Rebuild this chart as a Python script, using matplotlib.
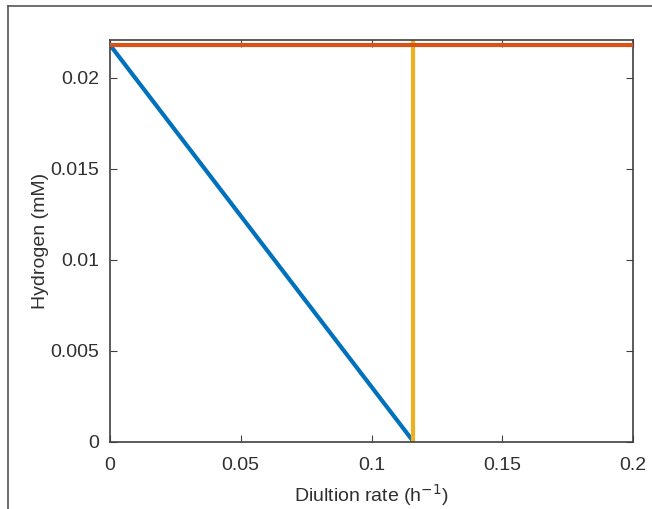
import matplotlib
matplotlib.use("Agg")
import matplotlib.pyplot as plt
from matplotlib.lines import Line2D

plt.rcParams['font.family'] = ['Liberation Sans', 'DejaVu Sans']

# washout line and hydrogen trajectory
dilution_blue = [0.0, 0.116]
hydrogen_blue = [0.0218, 0.0]
dilution_red = [0.0, 0.2]
hydrogen_red = [0.0218, 0.0218]
dilution_yellow = [0.116, 0.116]
hydrogen_yellow = [0.0, 0.0221]

xticks = [0, 0.05, 0.1, 0.15, 0.2]
xticklabels = ['0', '0.05', '0.1', '0.15', '0.2']
yticks = [0, 0.005, 0.01, 0.015, 0.02]
yticklabels = ['0', '0.005', '0.01', '0.015', '0.02']

axis_color = '#404040'
text_color = '#303030'

fig = plt.figure(figsize=(6.52, 5.09), dpi=100)
ax = fig.add_axes([110 / 652, 67.5 / 509, 523 / 652, 402 / 509])

ax.plot(dilution_red, hydrogen_red, color='#D95319', lw=3, solid_capstyle='butt', zorder=3)
ax.plot(dilution_blue, hydrogen_blue, color='#0072BD', lw=3, solid_capstyle='butt', zorder=2)
ax.plot(dilution_yellow, hydrogen_yellow, color='#EDB120', lw=3, solid_capstyle='butt', zorder=2)

ax.set_xlim(0, 0.2)
ax.set_ylim(0, 0.0221)
ax.set_xticks(xticks)
ax.set_xticklabels(xticklabels)
ax.set_yticks(yticks)
ax.set_yticklabels(yticklabels)
ax.tick_params(direction='in', length=5, width=0.8, colors=axis_color,
               labelsize=14, labelcolor=text_color, top=True, right=True)
ax.tick_params(axis='x', pad=11)
ax.tick_params(axis='y', pad=8)
for s in ax.spines.values():
    s.set_color(axis_color)
    s.set_linewidth(1.2)

ax.set_xlabel('Diultion rate (h$^{-1}$)', fontsize=14, color=text_color, labelpad=6)
ax.set_ylabel('Hydrogen (mM)', fontsize=14, color=text_color, labelpad=1)

# outer frame of the figure image
fig.add_artist(Line2D([8 / 652, 8 / 652], [0, 1 - 6 / 509], transform=fig.transFigure,
                      color='#555555', lw=1.2))
fig.add_artist(Line2D([8 / 652, 1], [1 - 6 / 509, 1 - 6 / 509], transform=fig.transFigure,
                      color='#555555', lw=1.2))

fig.savefig('out.png', dpi=100)
